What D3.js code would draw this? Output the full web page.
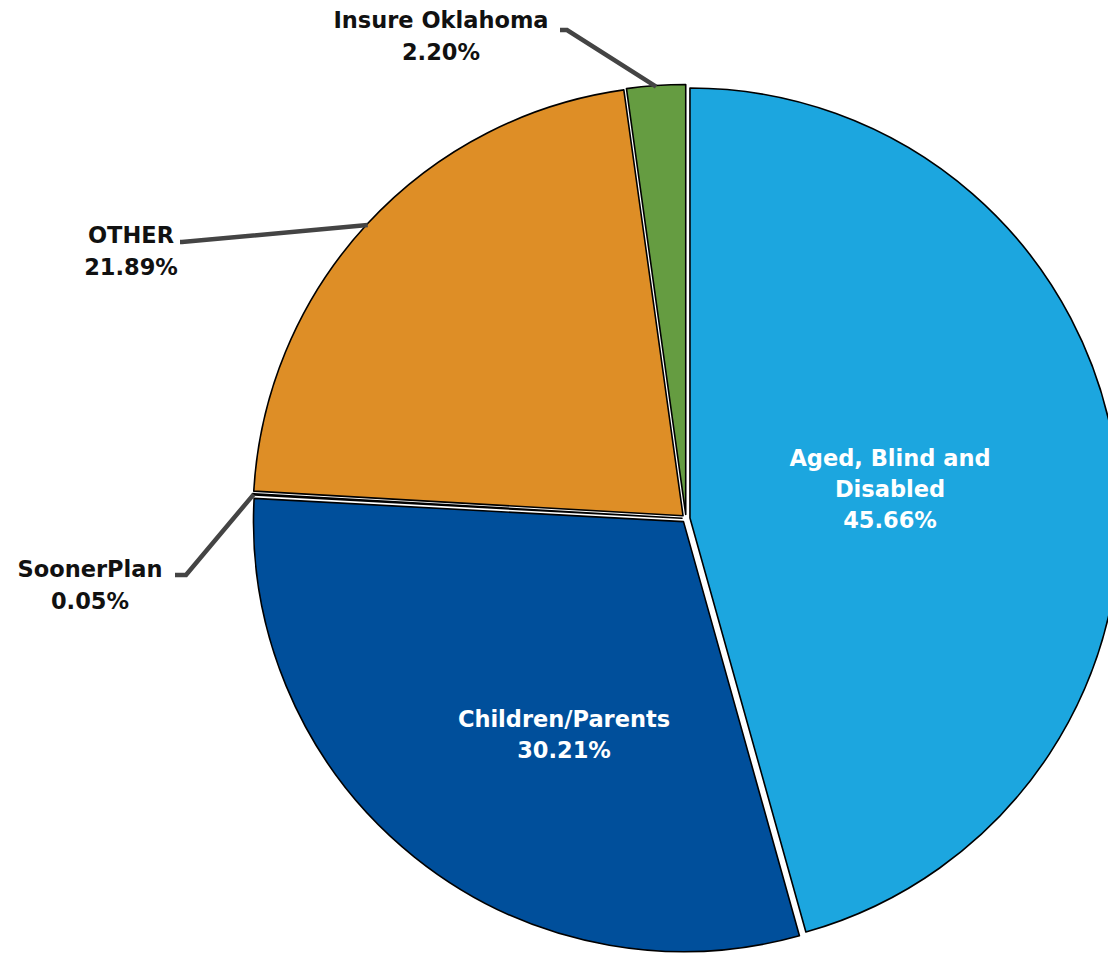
<!DOCTYPE html>
<html><head><meta charset="utf-8">
<script src="https://cdn.jsdelivr.net/npm/d3@7"></script>
<style>
html,body{margin:0;padding:0;background:#fff;}
text{font-family:"DejaVu Sans","Open Sans",sans-serif;font-weight:700;}
</style></head>
<body>
<svg id="chart" width="1108" height="954"></svg>
<script>
const categories = ["Aged, Blind and Disabled","Children/Parents","SoonerPlan","OTHER","Insure Oklahoma"];
const values = [45.66, 30.21, 0.05, 21.89, 2.20];
const valueLabels = ["45.66%","30.21%","0.05%","21.89%","2.20%"];
const colors = ["#1ca6df","#004f9b","#8a8a8a","#de8e26","#659c41"];

const W = 1108, H = 954;
const cx = 686, cy = 518.5, R = 430, explode = 4;
const svg = d3.select("#chart");
const g = svg.append("g").attr("transform", `translate(${cx},${cy})`);

const pie = d3.pie().sort(null).value(d => d.v).startAngle(0).endAngle(2*Math.PI);
const data = categories.map((c,i)=>({c, v: values[i], lab: valueLabels[i], col: colors[i]}));
const arcs = pie(data);
const arc = d3.arc().innerRadius(0).outerRadius(R);

function off(a, d){ const m=(a.startAngle+a.endAngle)/2; return [Math.sin(m)*d, -Math.cos(m)*d]; }

g.selectAll("path.slice").data(arcs).enter().append("path")
  .attr("class","slice")
  .attr("d", arc)
  .attr("transform", d => { const o = off(d, explode); return `translate(${o[0]},${o[1]})`; })
  .attr("fill", d => d.data.col)
  .attr("stroke", "#000")
  .attr("stroke-width", 1.6)
  .attr("stroke-linejoin","round");

const FS = 22.5, lh = 31;
// inside labels (layout positions in pixels)
const inside = [
  {i: 0, x: 890, y: 466, lines: ["Aged, Blind and","Disabled"]},
  {i: 1, x: 564, y: 727, lines: ["Children/Parents"]}
];
inside.forEach(o => {
  const a = arcs[o.i];
  const lines = o.lines.concat([a.data.lab]);
  const t = svg.append("text").attr("text-anchor","middle").attr("fill","#fff").attr("font-size",FS);
  lines.forEach((ln,k)=> t.append("tspan").attr("x", o.x).attr("y", o.y + k*lh).text(ln));
});

// outside labels with leader lines
const outside = [
  {i: 4, tx: 441, ty: 28, elbow: [567, 30], end: [560, 30]},
  {i: 3, tx: 131, ty: 243, elbow: [182, 242], end: [180, 242]},
  {i: 2, tx: 90, ty: 577, elbow: [186, 575], end: [175, 575]}
];
outside.forEach(o => {
  const a = arcs[o.i];
  const m = (a.startAngle+a.endAngle)/2;
  const ofs = off(a, explode);
  const px = cx + ofs[0] + Math.sin(m)*(R-1), py = cy + ofs[1] - Math.cos(m)*(R-1);
  svg.append("path")
    .attr("d", d3.line()([[px,py], o.elbow, o.end]))
    .attr("fill","none").attr("stroke","#444").attr("stroke-width",4.5)
    .attr("stroke-linejoin","miter");
  const t = svg.append("text").attr("text-anchor","middle").attr("fill","#111").attr("font-size",FS);
  t.append("tspan").attr("x", o.tx).attr("y", o.ty).text(a.data.c);
  t.append("tspan").attr("x", o.tx).attr("y", o.ty + 32).text(a.data.lab);
});
</script>
</body></html>
